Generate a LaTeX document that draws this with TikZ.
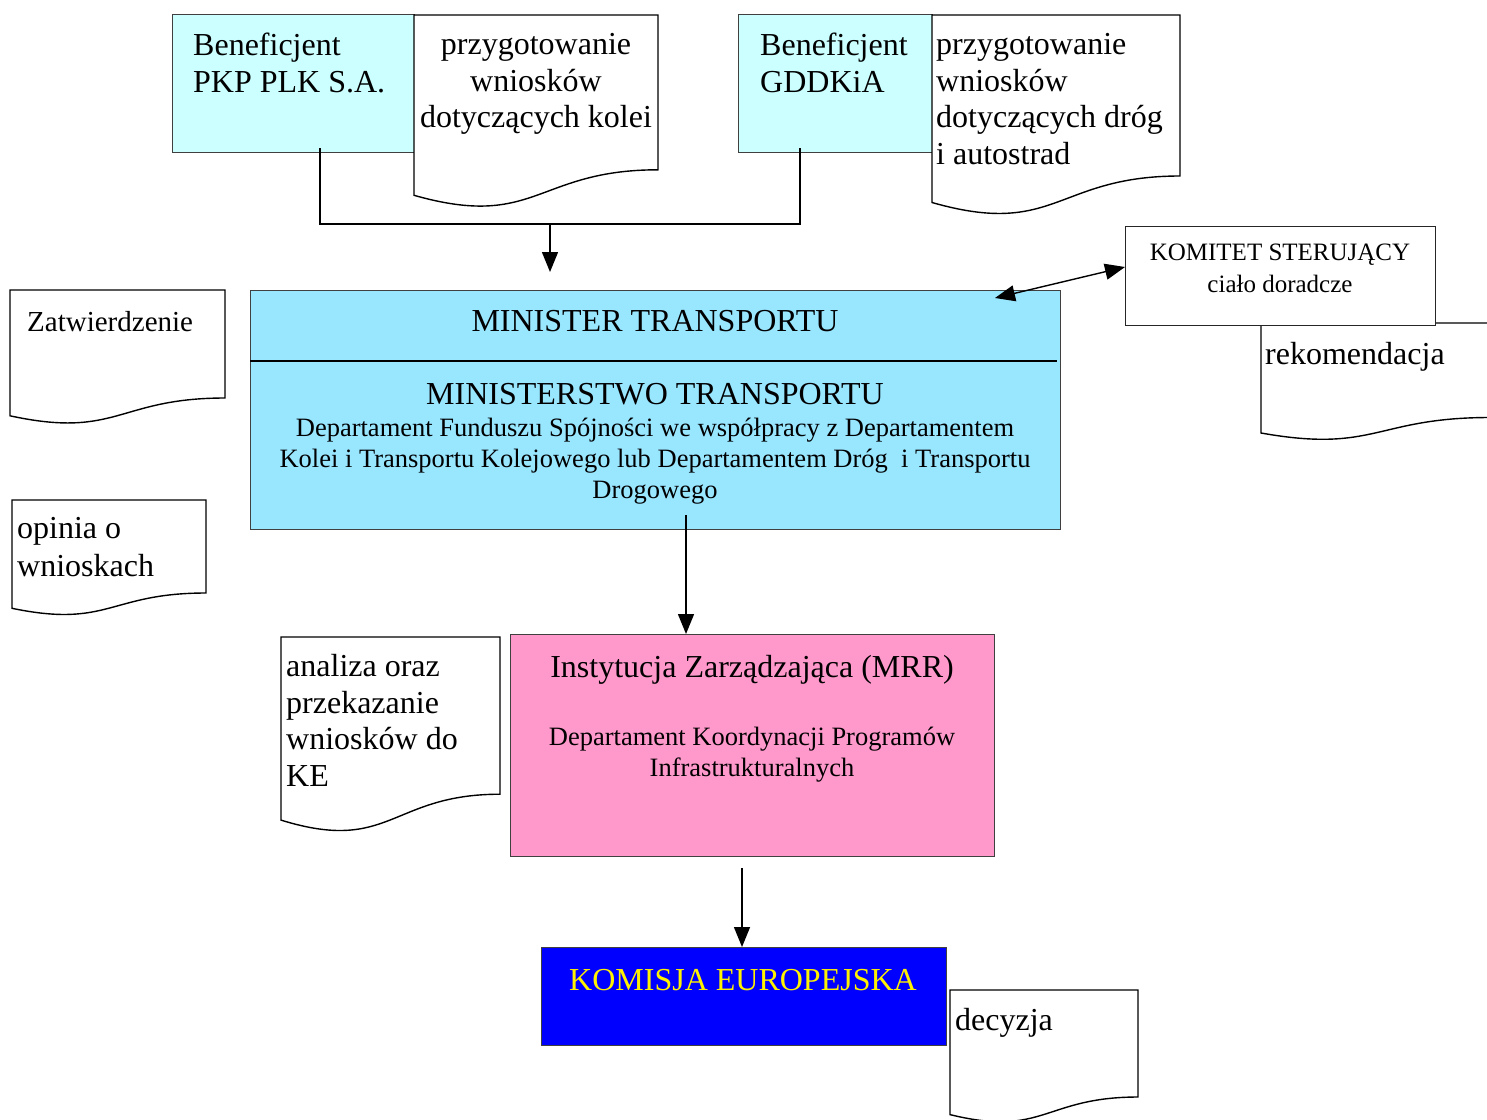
\documentclass[tikz,border=0pt]{standalone}
\usepackage{fontspec}
\setmainfont{Liberation Serif}
\usetikzlibrary{arrows.meta}
\definecolor{benfill}{RGB}{204,255,255}
\definecolor{minfill}{RGB}{153,230,255}
\definecolor{instfill}{RGB}{255,153,204}
\tikzset{
  boxnode/.style={draw=black!75, line width=1pt, inner sep=0pt, outer sep=0pt},
  docshape/.style={draw, line width=1.4pt, fill=white},
  bigtxt/.style={inner sep=0pt, font=\fontsize{32}{36.7}\selectfont, execute at begin node=\rule{0pt}{24pt}},
  smalltxt/.style={inner sep=0pt, font=\fontsize{26.5}{31}\selectfont, execute at begin node=\rule{0pt}{20pt}},
  link/.style={line width=1.4pt},
  arr/.style={line width=1.4pt, -{Triangle[length=20pt,width=16pt]}},
}
\begin{document}
\begin{tikzpicture}[x=1pt,y=-1pt]
\useasboundingbox (0,0) rectangle (1487,1119);
\clip (0,0) rectangle (1487,1119);
\node[boxnode, fill=benfill, minimum width=242, minimum height=138] (benef1) at (293,83){};
\node[boxnode, fill=benfill, minimum width=194, minimum height=138] (benef2) at (835,83){};
\draw[docshape] (414,15) -- (658,15) -- (658,169.8) .. controls (536,169.8) and (536,230) .. (414,195.3) -- cycle;
\draw[docshape] (932,15) -- (1180,15) -- (1180,176) .. controls (1056,176) and (1056,238) .. (932,202.5) -- cycle;
\node[bigtxt, anchor=north west, align=left] (benef1txt) at (193,33){Beneficjent\\PKP PLK S.A.};
\node[bigtxt, anchor=north west, align=left] (benef2txt) at (760,33){Beneficjent\\GDDKiA};
\node[bigtxt, anchor=north, align=center] (kolei) at (536,33){przygotowanie\\wniosków\\dotyczących kolei};
\node[bigtxt, anchor=north west, align=left] (drog) at (936,33){przygotowanie\\wniosków\\dotyczących dróg\\i autostrad};
\coordinate (b1) at (320,148);
\coordinate (b2) at (800,148);
\coordinate (join) at (550,224);
\coordinate (mtin) at (550,272);
\draw[link] (b1) |- (join) -| (b2);
\draw[arr] (join) -- (mtin);
\node[boxnode, fill=minfill, minimum width=810, minimum height=239] (minister) at (655,409.5){};
\draw[link] (250,361) -- (1057,361);
\node[bigtxt, anchor=north] (mt1) at (655,307){MINISTER TRANSPORTU};
\node[bigtxt, anchor=north] (mt2) at (655,380){MINISTERSTWO TRANSPORTU};
\node[smalltxt, anchor=north, align=center] (mt3) at (655,418){Departament Funduszu Spójności we współpracy z Departamentem\\Kolei i Transportu Kolejowego lub Departamentem Dróg\ \ i Transportu\\Drogowego};
\draw[docshape] (1261,323) -- (1490,323) -- (1490,417.5) .. controls (1375.5,417.5) and (1375.5,453.4) .. (1261,433) -- cycle;
\node[bigtxt, anchor=north west] (rekom) at (1265,340){rekomendacja};
\node[boxnode, draw=black!85, fill=white, minimum width=310, minimum height=99] (komitet) at (1280,275.5){};
\node[inner sep=0pt, anchor=north, align=center, font=\fontsize{25}{32}\selectfont, execute at begin node=\rule{0pt}{19pt}] (komtxt) at (1280,244){KOMITET STERUJĄCY\\ciało doradcze};
\coordinate (mtarr) at (995,298);
\coordinate (kin) at (1125,267);
\draw[line width=1.4pt, {Triangle[length=20pt,width=16pt]}-{Triangle[length=20pt,width=16pt]}] (mtarr) -- (kin);
\draw[docshape] (10,290) -- (225,290) -- (225,398) .. controls (117.5,398) and (117.5,439.1) .. (10,415.8) -- cycle;
\node[inner sep=0pt, anchor=north west, font=\fontsize{29}{34}\selectfont, execute at begin node=\rule{0pt}{22pt}] (zatw) at (27,309){Zatwierdzenie};
\draw[docshape] (12,500) -- (206,500) -- (206,593) .. controls (109,593) and (109,628.4) .. (12,608.3) -- cycle;
\node[inner sep=0pt, anchor=north west, align=left, font=\fontsize{32}{38}\selectfont, execute at begin node=\rule{0pt}{24pt}] (opinia) at (17,517){opinia o\\wnioskach};
\draw[docshape] (281,637) -- (500,637) -- (500,794.2) .. controls (390.5,794.2) and (390.5,854) .. (281,820.1) -- cycle;
\node[bigtxt, anchor=north west, align=left] (analiza) at (286,654){analiza oraz\\przekazanie\\wniosków do\\KE};
\node[boxnode, fill=instfill, minimum width=484, minimum height=222] (inst) at (752,745){};
\node[bigtxt, anchor=north] (inst1) at (752,653){Instytucja Zarządzająca (MRR)};
\node[smalltxt, anchor=north, align=center] (inst2) at (752,727){Departament Koordynacji Programów\\Infrastrukturalnych};
\coordinate (mtout) at (686,515);
\draw[arr] (mtout) -- (mtout |- inst.north);
\node[boxnode, fill=blue, minimum width=405, minimum height=98] (komisja) at (743.5,996){};
\node[bigtxt, anchor=north, text=yellow] (komtxt2) at (743,966){KOMISJA EUROPEJSKA};
\coordinate (instout) at (742,868);
\draw[arr] (instout) -- (instout |- komisja.north);
\draw[docshape] (950,990) -- (1138,990) -- (1138,1097) .. controls (1044,1097) and (1044,1137.7) .. (950,1114.6) -- cycle;
\node[bigtxt, anchor=north west] (decyzja) at (955,1006){decyzja};
\end{tikzpicture}
\end{document}
